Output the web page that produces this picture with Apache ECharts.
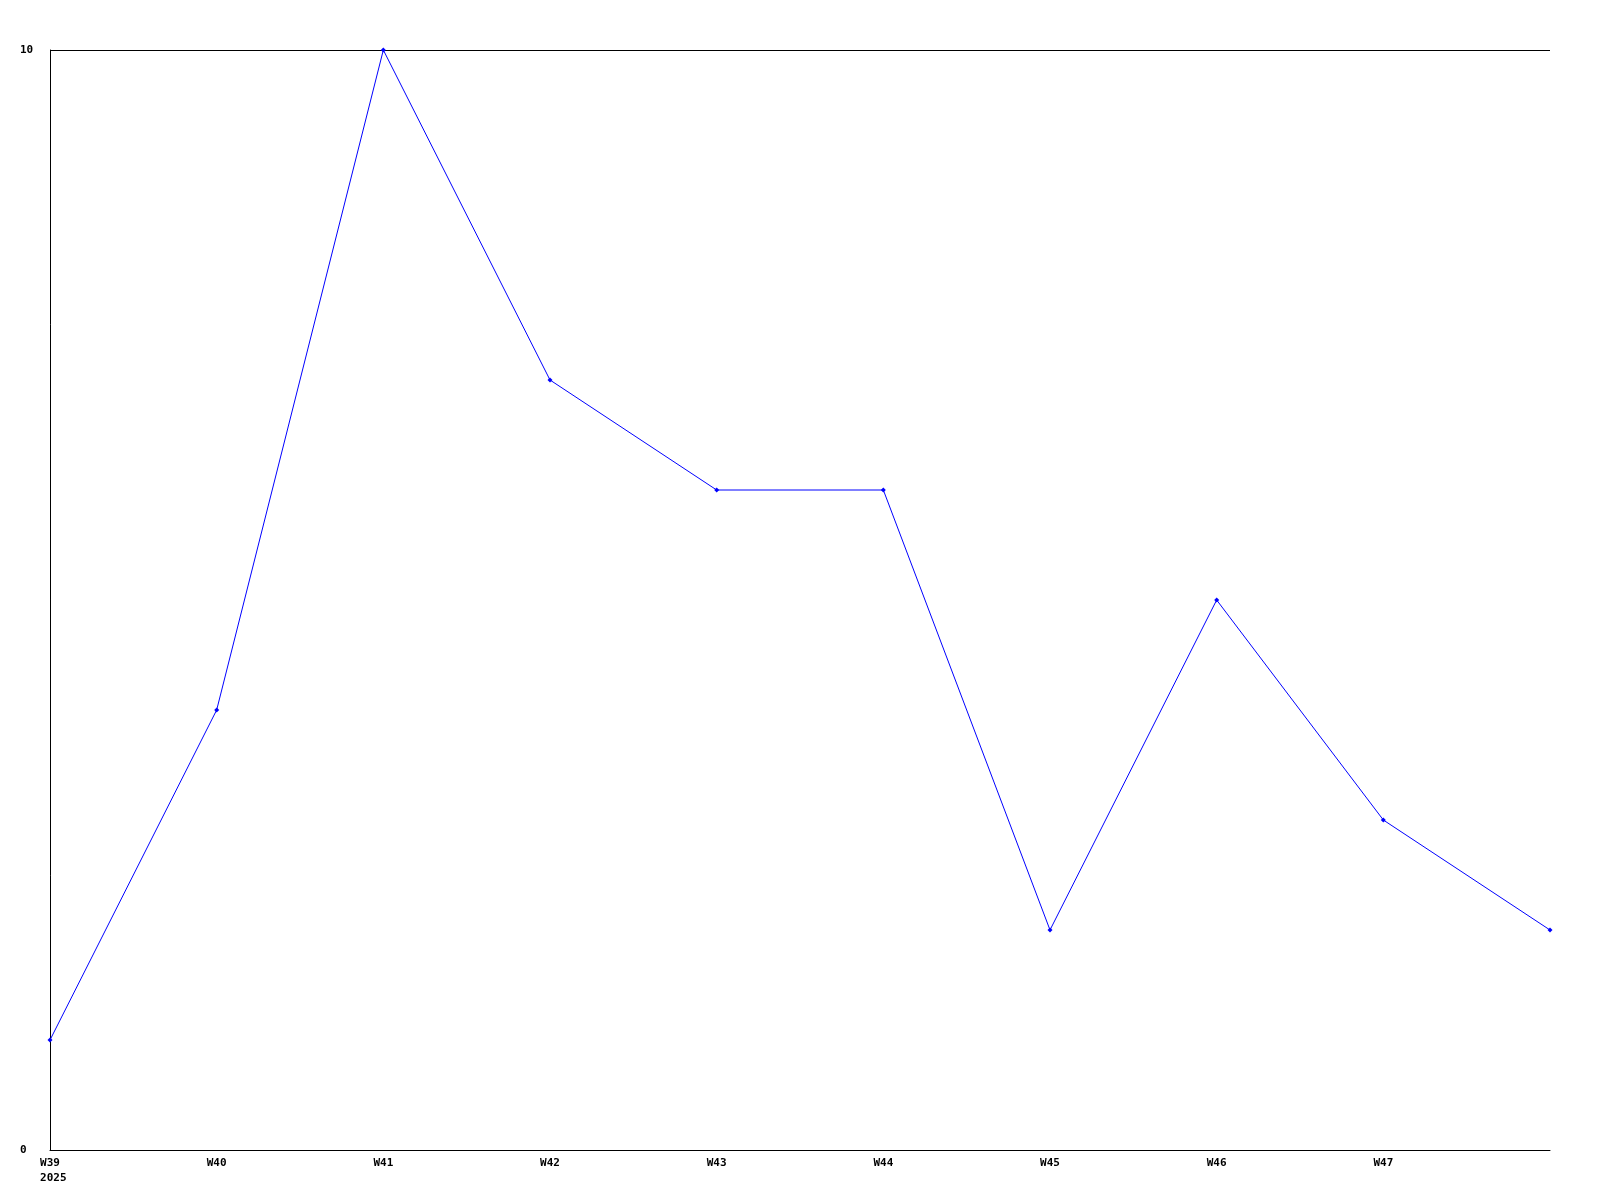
<!DOCTYPE html>
<html>
<head>
<meta charset="utf-8">
<style>html,body{margin:0;padding:0;background:#fff;}#c{width:1600px;height:1200px;}</style>
<script src="https://cdn.jsdelivr.net/npm/echarts@6/dist/echarts.min.js"></script>
</head>
<body>
<div id="c"></div>
<script>
const categories = ["W39\n 2025", "W40", "W41", "W42", "W43", "W44", "W45", "W46", "W47", ""];
const values = [1, 4, 10, 7, 6, 6, 2, 5, 3, 2];
const yTicks = [0, 10];

const chart = echarts.init(document.getElementById('c'), null, {renderer: 'canvas'});
const font = '"DejaVu Sans Mono", monospace';
chart.setOption({
  animation: false,
  backgroundColor: '#fff',
  grid: {left: 50, right: 50, top: 50, bottom: 50, containLabel: false},
  xAxis: {
    type: 'category',
    data: categories,
    boundaryGap: false,
    axisLine: {show: true, lineStyle: {color: '#000', width: 1}},
    axisTick: {show: false},
    splitLine: {show: false},
    axisLabel: {
      interval: 0, margin: 6, color: '#000', fontFamily: font, fontWeight: 'bold', fontSize: 11,
      lineHeight: 15, align: 'center', verticalAlign: 'top'
    }
  },
  yAxis: {
    type: 'value',
    min: yTicks[0], max: yTicks[1], interval: 10,
    axisLine: {show: true, lineStyle: {color: '#000', width: 1}},
    axisTick: {show: false},
    splitLine: {show: true, lineStyle: {color: '#000', width: 1}},
    axisLabel: {margin: 30, align: 'left', color: '#000', fontFamily: font, fontWeight: 'bold', fontSize: 11}
  },
  series: [{
    type: 'line',
    data: values,
    symbol: 'diamond',
    symbolSize: 5,
    showAllSymbol: true,
    lineStyle: {color: '#0000ff', width: 1},
    itemStyle: {color: '#0000ff'},
    emphasis: {disabled: true}
  }]
});
</script>
</body>
</html>
